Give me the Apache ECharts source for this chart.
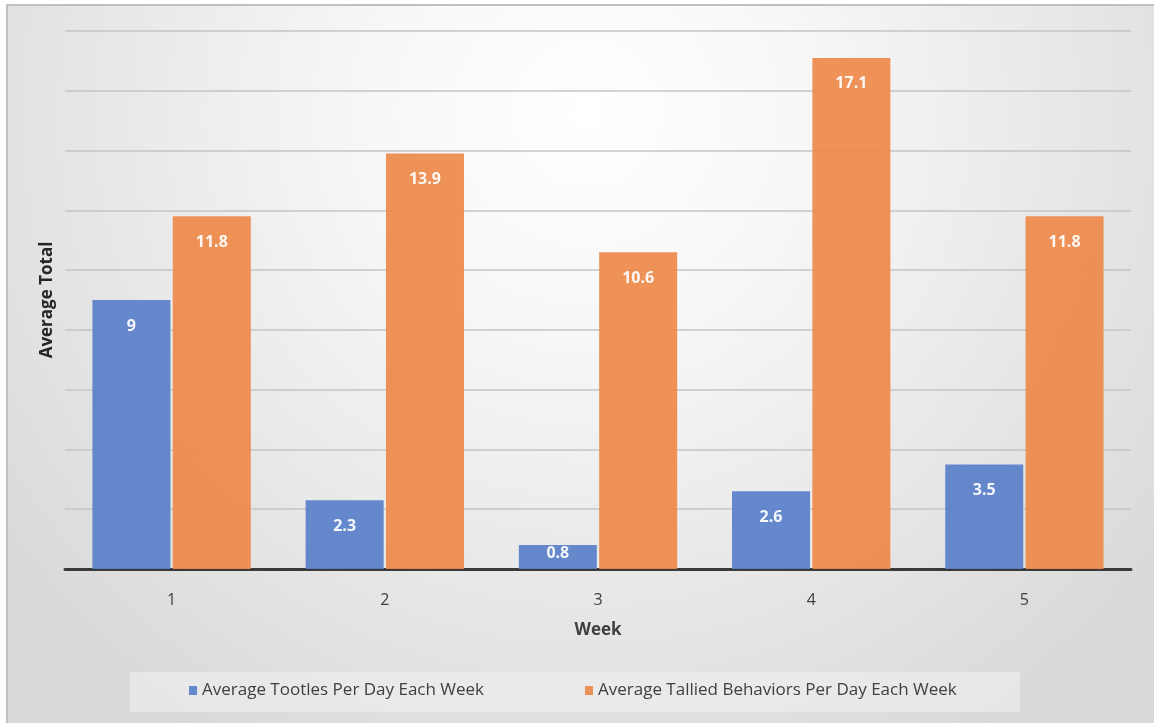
<!DOCTYPE html>
<html><head><meta charset="utf-8">
<script src="https://cdn.jsdelivr.net/npm/echarts@6/dist/echarts.min.js"></script>
<style>html,body{margin:0;padding:0;background:#fff;}#c{width:1154px;height:723px;}</style>
</head><body><div id="c"></div>
<script>
const weeks = ['1','2','3','4','5'];
const tootles = [9, 2.3, 0.8, 2.6, 3.5];
const tallied = [11.8, 13.9, 10.6, 17.1, 11.8];
const seriesNames = ['Average Tootles Per Day Each Week', 'Average Tallied Behaviors Per Day Each Week'];
const xTitle = 'Week';
const yTitle = 'Average Total';

const font = '"Open Sans", "Noto Sans", sans-serif';
const chart = echarts.init(document.getElementById('c'));
function mk(vals){
  return vals.map(v => v < 1.5 ? {value: v, label: {distance: 0}} : v);
}
const lbl = {show: true, position: 'insideTop', distance: 18, color: '#fff', fontWeight: 'bold', fontSize: 16, fontFamily: font};
const legendText = {color: '#404040', fontSize: 17, fontFamily: font};
chart.setOption({
  backgroundColor: '#fff',
  graphic: [{
    type: 'rect', z: -10, silent: true,
    shape: {x: 7, y: 5, width: 1160, height: 730},
    style: {
      fill: new echarts.graphic.RadialGradient(0.5, 0.15, 1.0, [
        {offset: 0, color: '#ffffff'}, {offset: 0.3, color: '#f7f7f7'}, {offset: 1, color: '#d9d9d9'}
      ]),
      stroke: '#c0c0c0', lineWidth: 2
    }
  }, {
    type: 'rect', z: -9, silent: true,
    shape: {x: 130, y: 672, width: 890, height: 40},
    style: {fill: 'rgba(240,240,240,0.6)'}
  }],
  grid: {left: 65, right: 23, top: 31, bottom: 154},
  legend: [{
    data: [seriesNames[0]], bottom: 19, left: 184,
    itemWidth: 8, itemHeight: 9, icon: 'rect', textStyle: legendText
  }, {
    data: [seriesNames[1]], bottom: 19, left: 580,
    itemWidth: 8, itemHeight: 9, icon: 'rect', textStyle: legendText
  }],
  xAxis: {
    type: 'category', data: weeks,
    name: xTitle, nameLocation: 'middle', nameGap: 53,
    nameTextStyle: {color: '#404040', fontWeight: 'bold', fontSize: 17, fontFamily: font},
    axisLine: {lineStyle: {color: '#3a3a3a', width: 3}},
    axisTick: {show: false},
    axisLabel: {color: '#404040', fontSize: 16, margin: 23, fontFamily: font}
  },
  yAxis: {
    type: 'value', min: 0, max: 18, interval: 2,
    name: yTitle, nameLocation: 'middle', nameGap: 9, nameRotate: 90,
    nameTextStyle: {color: '#262626', fontWeight: 'bold', fontSize: 17, fontFamily: font},
    axisLabel: {show: false}, axisLine: {show: false}, axisTick: {show: false},
    splitLine: {lineStyle: {color: '#c4c4c4', width: 1.5}}
  },
  series: [
    {name: seriesNames[0], type: 'bar', data: mk(tootles), barWidth: 78, barGap: '3%',
     itemStyle: {color: '#5a80c9', opacity: 0.93}, label: lbl},
    {name: seriesNames[1], type: 'bar', data: mk(tallied), barWidth: 78,
     itemStyle: {color: '#ed8a4a', opacity: 0.93}, label: lbl}
  ]
});
</script></body></html>
